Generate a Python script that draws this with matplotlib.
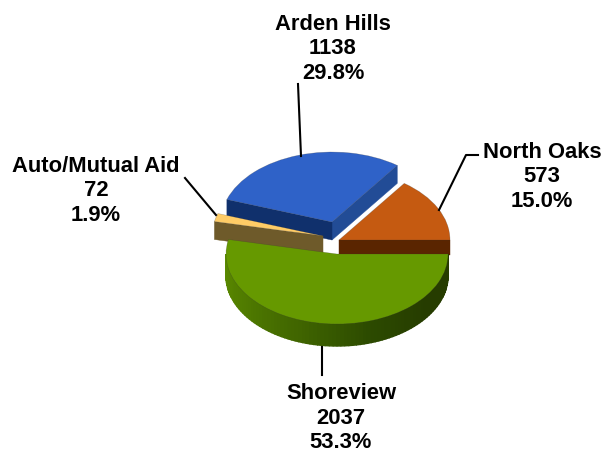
import numpy as np
import matplotlib
matplotlib.use("Agg")
import matplotlib.pyplot as plt
from matplotlib.colors import LinearSegmentedColormap
from matplotlib.lines import Line2D

W, H = 604, 453

# Data
names = ['North Oaks', 'Arden Hills', 'Auto/Mutual Aid', 'Shoreview']
values = [573, 1138, 72, 2037]

# Look of each slice
top_colors = ['#c55a11', '#2f62c8', '#ffcc66', '#669900']
face1_colors = ['#5a2500', '#224c96', '#6e5a2a', '#3a5500']
face2_colors = ['#5a2500', '#10306c', '#6e5a2a', '#3a5500']
rim_colors = ['#5c8c00', '#4f7a00', '#3f6400', '#2c4a00', '#263c00', '#263c00']
offsets = [(0.018, 0.20), (-0.045, 0.457), (-0.126, 0.257), (0.0, 0.0)]
depths = [15, 18, 18, 22]

# Pie size and centre in pixels, the y axis is squashed for the 3D look
rx, ry = 111, 70
cx, cy = 337, 254

# label centre (middle line) in pixels
label_pos = [(542, 177), (333, 49), (96, 191), (341, 418)]
leaders = [
    [(439, 210), (466, 155), (478, 155)],
    [(301, 156), (298, 84)],
    [(216, 215), (185, 178)],
    [(322, 347), (322, 375)],
]

plt.rcParams['font.family'] = ['Liberation Sans', 'DejaVu Sans']

fig = plt.figure(figsize=(W / 100, H / 100), dpi=100, facecolor='white')
ax = fig.add_axes([0, 0, 1, 1])

wedges = ax.pie(values, colors=top_colors, startangle=0, counterclock=True, radius=1)[0]
ax.set_aspect('auto')
ax.set_xlim(-cx / rx, (W - cx) / rx)
ax.set_ylim(-(H - cy) / ry, cy / ry)
ax.axis('off')

rim_cmap = LinearSegmentedColormap.from_list('rim', rim_colors)


def draw_side(wedge, d, face1, face2, order):
    x0, y0 = wedge.center
    dy = d / ry
    t1, t2 = wedge.theta1, wedge.theta2
    # flat cut faces, only those turned to the viewer
    if np.sin(np.radians(t1 - 90)) < 0:
        px_, py_ = x0 + np.cos(np.radians(t1)), y0 + np.sin(np.radians(t1))
        ax.fill([x0, px_, px_, x0], [y0, py_, py_ - dy, y0 - dy], color=face1, lw=0.3, zorder=order)
    if np.sin(np.radians(t2 + 90)) < 0:
        px_, py_ = x0 + np.cos(np.radians(t2)), y0 + np.sin(np.radians(t2))
        ax.fill([x0, px_, px_, x0], [y0, py_, py_ - dy, y0 - dy], color=face2, lw=0.3, zorder=order)
    # outer rim on the front half
    start, end = max(t1, 180), min(t2, 360)
    if end > start:
        angles = np.linspace(start, end, 91)
        for i in range(90):
            a = np.radians(angles[i:i + 2])
            xs = x0 + np.cos(a)
            ys = y0 + np.sin(a)
            ax.fill([xs[0], xs[1], xs[1], xs[0]], [ys[0], ys[1], ys[1] - dy, ys[0] - dy],
                    color=rim_cmap(i / 89), lw=1.0, zorder=order)


for i, w in enumerate(wedges):
    w.set_center(offsets[i])
    order = 2 + i * 2
    draw_side(w, depths[i], face1_colors[i], face2_colors[i], order)
    w.set_zorder(order + 1)
    w.set_edgecolor('#33333355')
    w.set_linewidth(0.4)

total = sum(values)
for name, val, (lx, ly) in zip(names, values, label_pos):
    fig.text(lx / W, 1 - ly / H, f"{name}\n{val}\n{val / total * 100:.1f}%",
             ha='center', va='center', fontsize=15.8, fontweight='bold', color='black', linespacing=1.2)

for pts in leaders:
    xs = [p[0] / W for p in pts]
    ys = [1 - p[1] / H for p in pts]
    fig.add_artist(Line2D(xs, ys, color='black', lw=1.5, transform=fig.transFigure))

fig.savefig('out.png', dpi=100)
